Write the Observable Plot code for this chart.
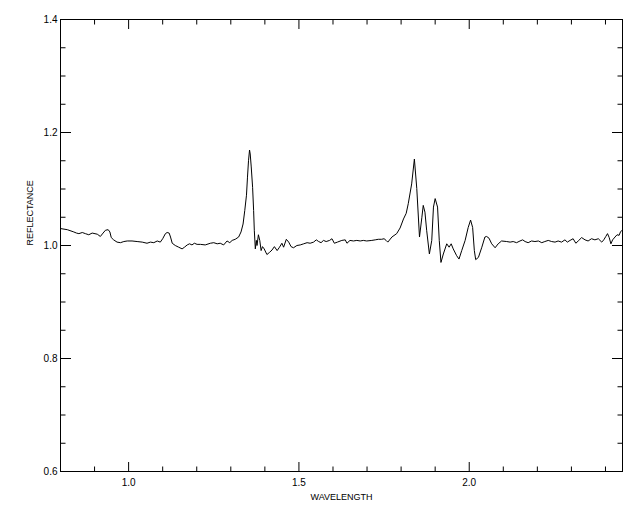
<!DOCTYPE html>
<html><head><meta charset="utf-8">
<script src="https://cdn.jsdelivr.net/npm/d3@7"></script>
<script src="https://cdn.jsdelivr.net/npm/@observablehq/plot@0.6"></script>
<style>html,body{margin:0;padding:0;background:#fff}svg{display:block}</style>
</head><body><div id="chart"></div>
<script>
const wavelength = [0.800,0.820,0.839,0.847,0.854,0.864,0.873,0.883,0.893,0.908,0.917,0.925,0.932,0.940,0.945,0.949,0.956,0.966,0.976,0.986,0.996,
1.010,1.025,1.040,1.054,1.064,1.074,1.084,1.093,1.100,1.108,1.113,1.119,1.123,1.128,1.137,1.147,1.157,1.164,1.172,1.179,1.186,1.193,1.201,
1.211,1.225,1.240,1.250,1.260,1.269,1.279,1.289,1.297,1.304,1.313,1.323,1.330,1.336,1.341,1.346,1.349,1.352,1.355,1.357,1.360,1.364,1.367,1.369,
1.372,1.375,1.377,1.381,1.385,1.389,1.393,1.398,1.406,1.414,1.421,1.428,1.436,1.443,1.450,1.455,1.463,1.470,1.477,1.484,1.494,
1.504,1.514,1.524,1.533,1.543,1.551,1.558,1.565,1.572,1.580,1.590,1.597,1.604,1.613,1.626,1.636,1.641,1.650,1.660,1.670,1.680,1.689,1.699,
1.714,1.724,1.733,1.743,1.750,1.756,1.761,1.773,1.787,1.797,1.807,1.815,1.821,1.831,1.839,1.846,1.854,1.861,1.865,1.870,1.875,1.883,1.890,1.895,1.900,
1.907,1.912,1.917,1.924,1.934,1.941,1.947,1.953,1.963,1.970,1.978,1.988,1.997,2.004,2.010,2.015,2.019,2.027,2.037,2.046,2.051,2.058,2.066,2.076,2.085,2.095,
2.110,2.120,2.129,2.139,2.149,2.157,2.164,2.173,2.183,2.193,2.203,2.213,2.222,2.232,2.242,2.252,2.261,2.271,2.281,2.288,2.296,2.305,2.313,2.320,
2.330,2.340,2.349,2.359,2.369,2.379,2.389,2.395,2.401,2.406,2.411,2.416,2.421,2.428,2.434,2.440,2.444,2.449];
const reflectance = [1.030,1.028,1.024,1.022,1.021,1.023,1.021,1.019,1.022,1.020,1.016,1.022,1.027,1.028,1.024,1.014,1.010,1.006,1.005,1.007,1.008,
1.008,1.007,1.006,1.004,1.006,1.005,1.008,1.006,1.012,1.021,1.023,1.022,1.015,1.004,1.000,0.997,0.994,0.997,1.001,1.003,1.001,1.004,1.002,
1.002,1.001,1.004,1.005,1.003,1.004,1.001,1.008,1.005,1.009,1.011,1.015,1.024,1.038,1.062,1.089,1.121,1.150,1.169,1.162,1.139,1.103,1.062,1.027,
0.994,1.009,1.000,1.019,1.009,0.991,0.998,0.994,0.984,0.988,0.992,0.998,0.991,0.997,1.004,0.997,1.011,1.006,0.998,0.996,1.000,
1.001,1.003,1.005,1.004,1.006,1.010,1.007,1.005,1.009,1.007,1.009,1.012,1.004,1.006,1.009,1.010,1.004,1.009,1.008,1.009,1.008,1.009,1.008,
1.009,1.010,1.011,1.011,1.012,1.009,1.006,1.015,1.021,1.031,1.047,1.057,1.074,1.109,1.153,1.101,1.015,1.050,1.071,1.059,1.027,0.985,1.009,1.068,1.083,
1.068,1.009,0.970,0.985,1.003,0.997,1.003,0.994,0.982,0.976,0.991,1.009,1.032,1.045,1.032,0.991,0.975,0.979,0.997,1.015,1.016,1.013,1.003,0.996,1.003,1.008,
1.007,1.006,1.007,1.005,1.008,1.010,1.007,1.005,1.008,1.007,1.008,1.005,1.007,1.009,1.007,1.006,1.008,1.006,1.010,1.006,1.009,1.012,1.004,1.008,
1.014,1.010,1.008,1.012,1.010,1.012,1.006,1.010,1.016,1.021,1.014,1.003,1.010,1.015,1.019,1.018,1.024,1.027];
const xMajorTicks = [1.0, 1.5, 2.0];
const xMinorTicks = [0.9, 1.1, 1.2, 1.3, 1.4, 1.6, 1.7, 1.8, 1.9, 2.1, 2.2, 2.3, 2.4];
const yMajorTicks = [0.6, 0.8, 1.0, 1.2, 1.4];
const yMinorTicks = [0.65, 0.7, 0.75, 0.85, 0.9, 0.95, 1.05, 1.1, 1.15, 1.25, 1.3, 1.35];
const xLabel = "WAVELENGTH";
const yLabel = "REFLECTANCE";

const spectrum = wavelength.map((w, i) => ({w, r: reflectance[i]}));
const fmt = d => d.toFixed(1);
const blank = () => "";

const chart = Plot.plot({
  width: 640, height: 512,
  marginLeft: 60, marginRight: 18, marginTop: 19, marginBottom: 41,
  style: {fontFamily: "'Liberation Sans', Arial, sans-serif", fontSize: "10px", background: "white", color: "black"},
  x: {domain: [0.8, 2.45]},
  y: {domain: [0.6, 1.4]},
  marks: [
    Plot.frame({stroke: "black", strokeWidth: 1}),
    Plot.axisX(xMajorTicks, {anchor: "bottom", tickSize: -9, tickFormat: blank, label: null}),
    Plot.axisX(xMinorTicks, {anchor: "bottom", tickSize: -4.5, tickFormat: blank, label: null}),
    Plot.axisX(xMajorTicks, {anchor: "top", tickSize: -9, tickFormat: blank, label: null}),
    Plot.axisX(xMinorTicks, {anchor: "top", tickSize: -4.5, tickFormat: blank, label: null}),
    Plot.axisX(xMajorTicks, {anchor: "bottom", tickSize: 0, tickPadding: 7, tickFormat: fmt, label: null}),
    Plot.axisY(yMajorTicks, {anchor: "left", tickSize: -11, tickFormat: blank, label: null}),
    Plot.axisY(yMinorTicks, {anchor: "left", tickSize: -5.5, tickFormat: blank, label: null}),
    Plot.axisY(yMajorTicks, {anchor: "right", tickSize: -11, tickFormat: blank, label: null}),
    Plot.axisY(yMinorTicks, {anchor: "right", tickSize: -5.5, tickFormat: blank, label: null}),
    Plot.axisY(yMajorTicks, {anchor: "left", tickSize: 0, tickPadding: 3, tickFormat: fmt, label: null}),
    Plot.line(spectrum, {x: "w", y: "r", stroke: "black", strokeWidth: 1}),
    Plot.text([xLabel], {frameAnchor: "bottom", dy: 26, fontSize: 9, lineAnchor: "middle"}),
    Plot.text([yLabel], {frameAnchor: "left", dx: -30, rotate: -90, fontSize: 9})
  ]
});
document.getElementById("chart").append(chart);
</script>
</body></html>
